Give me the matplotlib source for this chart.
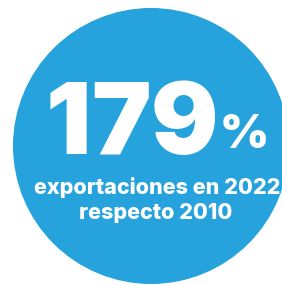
import matplotlib
matplotlib.use("Agg")
import matplotlib.pyplot as plt
from matplotlib.patches import Circle

value = 179
unit = "%"
caption_lines = ["exportaciones en 2022", "respecto 2010"]

W, H = 282, 285
fig = plt.figure(figsize=(W/100, H/100), dpi=100)
ax = fig.add_axes([0, 0, 1, 1])
ax.set_xlim(0, W)
ax.set_ylim(H, 0)
ax.axis("off")

blue = "#26A2DC"
ax.add_patch(Circle((151, 146), 138, color=blue, lw=0))

fam = ["Inter", "DejaVu Sans"]
fig.canvas.draw()
r = fig.canvas.get_renderer()
x = 46
for ch in str(value):
    t = ax.text(x, 154, ch, color="white", fontsize=72, fontweight="black",
                family=fam, ha="left", va="baseline")
    bb = t.get_window_extent(r)
    x += bb.width
ax.text(x + 1, 148, unit, color="white", fontsize=34, fontweight="black",
        family=fam, ha="left", va="baseline")
ax.text(157, 194, caption_lines[0], color="white", fontsize=15.5, fontweight="heavy",
        family=fam, ha="center", va="baseline")
ax.text(156, 219, caption_lines[1], color="white", fontsize=15.5, fontweight="heavy",
        family=fam, ha="center", va="baseline")

fig.savefig("out.png", dpi=100)
